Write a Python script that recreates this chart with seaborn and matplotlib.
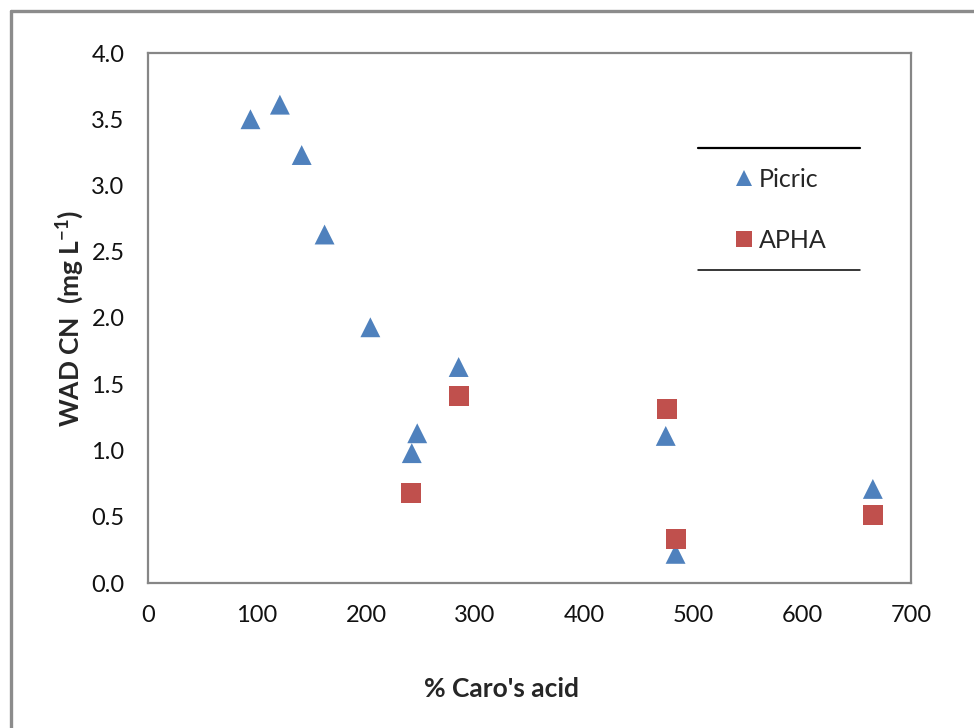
import matplotlib
matplotlib.use("Agg")
import matplotlib.pyplot as plt
from matplotlib.lines import Line2D
import numpy as np
import pandas as pd
import seaborn as sns

# Picric acid method results
picric_x = [94, 121, 141, 162, 204, 285, 247, 242, 475, 484, 665]
picric_y = [3.50, 3.61, 3.23, 2.63, 1.93, 1.63, 1.13, 0.98, 1.11, 0.22, 0.71]

# APHA method results
apha_x = [241, 285, 476, 484, 665]
apha_y = [0.68, 1.41, 1.31, 0.33, 0.51]

series = ["Picric", "APHA"]
x_ticks = [0, 100, 200, 300, 400, 500, 600, 700]
y_ticks = [0.0, 0.5, 1.0, 1.5, 2.0, 2.5, 3.0, 3.5, 4.0]

df = pd.DataFrame({
    "caro": picric_x + apha_x,
    "wad": picric_y + apha_y,
    "method": [series[0]] * len(picric_x) + [series[1]] * len(apha_x),
})

sns.set_style("white")
plt.rcParams["font.family"] = ["Lato", "DejaVu Sans"]
plt.rcParams["mathtext.fontset"] = "custom"
plt.rcParams["mathtext.rm"] = "Lato"
plt.rcParams["mathtext.bf"] = "Lato:bold"

W, H = 974, 728
fig = plt.figure(figsize=(W / 100, H / 100), dpi=100)
ax = fig.add_axes([148 / W, 1 - 583 / H, (911 - 148) / W, (583 - 53) / H])

sns.scatterplot(
    data=df, x="caro", y="wad", hue="method", style="method",
    palette={"Picric": "#4F81BD", "APHA": "#C0504D"},
    markers={"Picric": "^", "APHA": "s"},
    s=205, linewidth=0, ax=ax, legend=True, zorder=3,
)

ax.set_xlim(0, 700)
ax.set_ylim(0, 4.0)
ax.set_xticks(x_ticks)
ax.set_yticks(y_ticks)
ax.set_xticklabels([str(v) for v in x_ticks])
ax.set_yticklabels([f"{v:.1f}" for v in y_ticks])

grey = "#868686"
for sp in ax.spines.values():
    sp.set_color(grey)
    sp.set_linewidth(1.6)
    sp.set_visible(True)
ax.tick_params(axis="both", direction="out", length=6, width=1.3, color=grey,
               labelsize=17, labelcolor="#111111")
ax.tick_params(axis="y", pad=11)
ax.tick_params(axis="x", pad=10)

ax.set_xlabel("% Caro's acid", fontsize=19, fontweight="bold")
ax.set_ylabel("WAD CN  (mg L$\\mathbf{^{-1}}$)", fontsize=19, fontweight="bold")
ax.xaxis.set_label_coords(0.463, -0.178)
ax.yaxis.set_label_coords(-0.081, 0.5)

handles, labels = ax.get_legend_handles_labels()
ax.legend(handles, labels, loc="center", bbox_to_anchor=(0.830, 0.704),
          frameon=False, fontsize=18, labelspacing=1.5, handlelength=0.6,
          handletextpad=0.3, markerscale=0.85)

# Legend rules above and below the entries
fig.add_artist(Line2D([698 / W, 860 / W], [1 - 148 / H] * 2, color="black", lw=1.6))
fig.add_artist(Line2D([698 / W, 860 / W], [1 - 270 / H] * 2, color="black", lw=1.1))

# Chart area frame
fig.add_artist(Line2D([11 / W, 1.0], [1 - 11 / H] * 2, color="#8C8C8C", lw=2.4))
fig.add_artist(Line2D([11 / W] * 2, [0.0, 1 - 11 / H], color="#8C8C8C", lw=2.4))

fig.savefig("out.png", dpi=100)
